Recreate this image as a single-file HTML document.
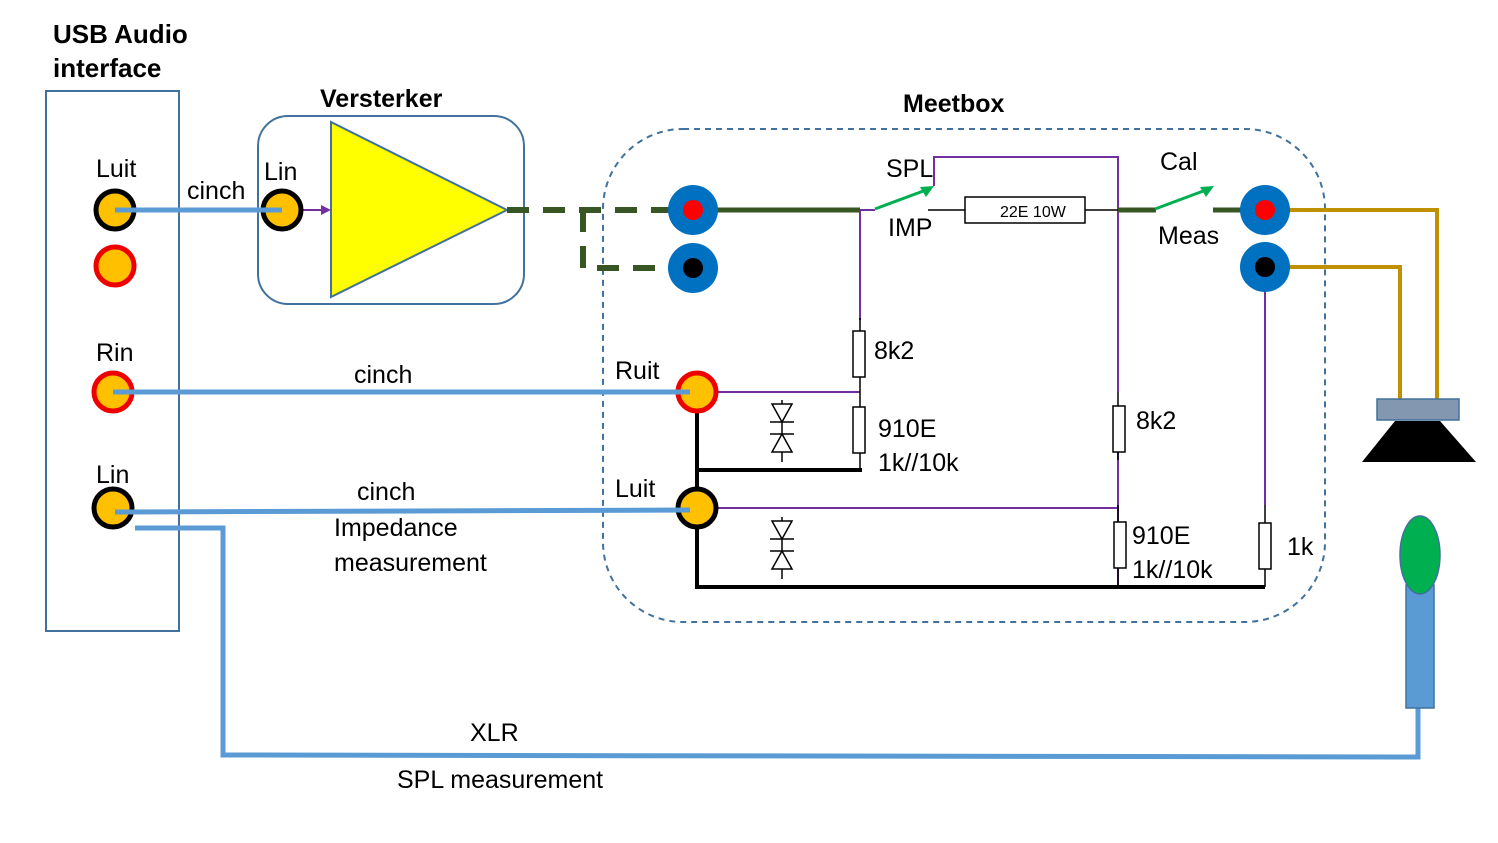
<!DOCTYPE html>
<html><head><style>body{margin:0;background:#fff}svg{display:block}text{font-family:"Liberation Sans",sans-serif;fill:#000}</style></head>
<body>
<svg width="1498" height="843" viewBox="0 0 1498 843" xmlns="http://www.w3.org/2000/svg">
<defs>
<g id="dd"><line x1="0" y1="-30" x2="0" y2="32" stroke="#000" stroke-width="1.5"/>
<polygon points="-10,-26 10,-26 0,-8" fill="#fff" stroke="#000" stroke-width="1.5"/><line x1="-12" y1="-8" x2="12" y2="-8" stroke="#000" stroke-width="1.5"/>
<polygon points="-10,22 10,22 0,4" fill="#fff" stroke="#000" stroke-width="1.5"/><line x1="-12" y1="4" x2="12" y2="4" stroke="#000" stroke-width="1.5"/></g>
</defs>
<text x="53" y="43" font-size="26" font-weight="bold">USB Audio</text>
<text x="53" y="77" font-size="26" font-weight="bold">interface</text>
<rect x="46" y="91" width="133" height="540" fill="none" stroke="#41719c" stroke-width="2"/>
<text x="320" y="107" font-size="25" font-weight="bold">Versterker</text>
<rect x="258" y="116" width="266" height="188" rx="30" fill="none" stroke="#41719c" stroke-width="2"/>
<polygon points="331,122 331,297 507,210" fill="#ffff00" stroke="#41719c" stroke-width="2"/>
<text x="903" y="112" font-size="25" font-weight="bold">Meetbox</text>
<rect x="603" y="129" width="722" height="493" rx="80" fill="none" stroke="#41719c" stroke-width="2" stroke-dasharray="6,5"/>
<path d="M507,210 H690 M583,210 V268 H690" fill="none" stroke="#375623" stroke-width="6" stroke-dasharray="22,14"/>
<g stroke="#7030a0" stroke-width="2" fill="none">
<path d="M860,210 H875"/><path d="M934,186 V157 H1118 V392"/><path d="M1118,452 V587"/>
<path d="M860,210 V320"/><path d="M715,392 H860"/><path d="M715,508 H1118"/><path d="M1265,285 V505"/>
</g>
<g stroke="#000" stroke-width="1.5" fill="#fff">
<line x1="860" y1="318" x2="860" y2="470"/><rect x="853" y="331" width="12" height="46"/><rect x="853" y="407" width="12" height="46"/>
<line x1="1118" y1="392" x2="1118" y2="460"/><rect x="1113" y="406" width="12" height="46"/>
<line x1="1118" y1="505" x2="1118" y2="587"/><rect x="1114" y="522" width="12" height="46"/>
<line x1="1265" y1="505" x2="1265" y2="587"/><rect x="1259" y="523" width="12" height="46"/>
<line x1="928" y1="210" x2="1118" y2="210"/><rect x="965" y="197" width="120" height="26"/>
</g>
<text x="1000" y="217" font-size="16">22E 10W</text>
<g stroke="#000" stroke-width="4" fill="none"><path d="M697,392 V587 H1265"/><path d="M697,470 H862"/></g>
<use href="#dd" x="782" y="430"/><use href="#dd" x="782" y="547"/>
<g stroke="#375623" stroke-width="5"><line x1="693" y1="210" x2="860" y2="210"/><line x1="1118" y1="210" x2="1156" y2="210"/><line x1="1213" y1="210" x2="1265" y2="210"/></g>
<g stroke="#00b050" stroke-width="3"><line x1="875" y1="209" x2="926" y2="190"/><line x1="1155" y1="209" x2="1206" y2="190"/></g>
<polygon points="934,186 920,187 926,197" fill="#00b050"/><polygon points="1214,186 1200,187 1206,197" fill="#00b050"/>
<path d="M1280,210 H1437 V400 M1280,267 H1400 V400" fill="none" stroke="#bf9000" stroke-width="4"/>
<g stroke="#5b9bd5" stroke-width="5" fill="none">
<path d="M135,528 H223 V755 L1418,757 V705"/>
</g>
<path d="M300,210 H323" stroke="#7030a0" stroke-width="2"/><polygon points="331,210 321,205 321,215" fill="#7030a0"/>
<g stroke-width="5">
<circle cx="115" cy="210" r="19" fill="#ffc000" stroke="#000"/>
<circle cx="115" cy="266" r="19" fill="#ffc000" stroke="#e00"/>
<circle cx="113" cy="392" r="19" fill="#ffc000" stroke="#e00"/>
<circle cx="113" cy="508" r="19" fill="#ffc000" stroke="#000"/>
<circle cx="282" cy="210" r="19" fill="#ffc000" stroke="#000"/>
<circle cx="697" cy="392" r="19" fill="#ffc000" stroke="#e00"/>
<circle cx="697" cy="508" r="19" fill="#ffc000" stroke="#000"/>
</g>
<g stroke="#5b9bd5" stroke-width="5"><line x1="115" y1="210" x2="282" y2="210"/><line x1="113" y1="392" x2="690" y2="392"/><line x1="115" y1="512" x2="690" y2="510"/></g>
<g fill="#0070c0"><circle cx="693" cy="210" r="25"/><circle cx="693" cy="268" r="25"/><circle cx="1265" cy="210" r="25"/><circle cx="1265" cy="267" r="25"/></g>
<circle cx="693" cy="210" r="10" fill="#f00"/><circle cx="1265" cy="210" r="10" fill="#f00"/>
<circle cx="693" cy="268" r="10" fill="#000"/><circle cx="1265" cy="267" r="10" fill="#000"/>
<rect x="1377" y="399" width="82" height="21" fill="#8497b0" stroke="#41719c" stroke-width="1.5"/>
<polygon points="1395,421 1440,421 1476,462 1362,462" fill="#000"/>
<rect x="1406" y="585" width="28" height="123" fill="#5b9bd5" stroke="#41719c" stroke-width="1.5"/>
<ellipse cx="1420" cy="555" rx="20" ry="39" fill="#00b050" stroke="#41719c" stroke-width="1.5"/>
<g font-size="25">
<text x="96" y="177">Luit</text><text x="96" y="361">Rin</text><text x="96" y="483">Lin</text>
<text x="264" y="180">Lin</text><text x="187" y="199">cinch</text>
<text x="354" y="383">cinch</text><text x="357" y="500">cinch</text>
<text x="334" y="536">Impedance</text><text x="334" y="571">measurement</text>
<text x="470" y="741">XLR</text><text x="397" y="788">SPL measurement</text>
<text x="615" y="379">Ruit</text><text x="615" y="497">Luit</text>
<text x="886" y="177">SPL</text><text x="888" y="236">IMP</text>
<text x="1160" y="170">Cal</text><text x="1158" y="244">Meas</text>
<text x="874" y="359">8k2</text><text x="878" y="437">910E</text><text x="878" y="471">1k//10k</text>
<text x="1136" y="429">8k2</text><text x="1132" y="544">910E</text><text x="1132" y="578">1k//10k</text>
<text x="1287" y="555">1k</text>
</g>
</svg>
</body></html>
